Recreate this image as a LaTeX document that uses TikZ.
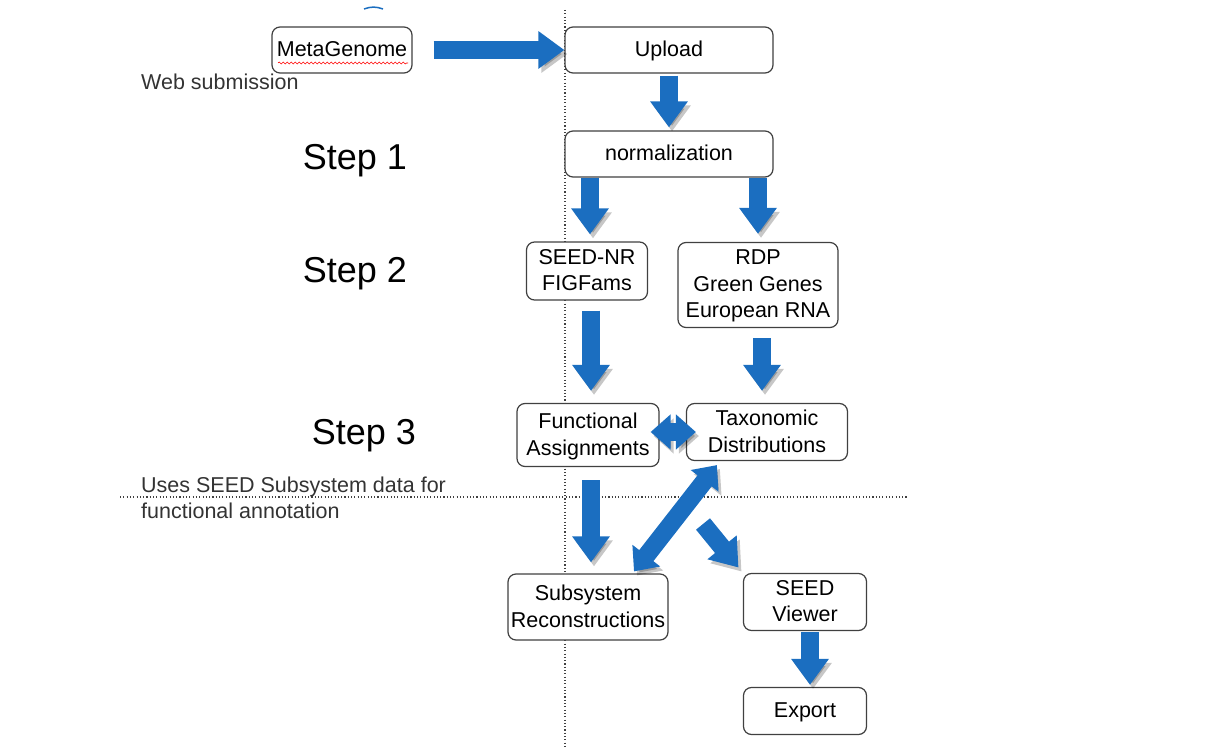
\documentclass[tikz,border=0pt]{standalone}
\usepackage{fontspec}
\setmainfont{Liberation Sans}
\usepackage{tikz}
\usetikzlibrary{arrows.meta,calc,decorations.pathmorphing}
\definecolor{flowblue}{HTML}{1B6EC0}

\begin{document}
\begin{tikzpicture}[x=1pt,y=-1pt]
    \useasboundingbox (0,0) rectangle (1219,749);

    % --- DEFINE STYLES ---
    % Style for the rounded process boxes
    \tikzstyle{stage} = [draw=black!75, line width=1.2pt, rounded corners=8pt, fill=white,
        align=center, inner sep=2pt, text depth=2pt, font=\fontsize{21.5}{26.5}\selectfont]
    % Style for the big step labels
    \tikzstyle{steplabel} = [font=\fontsize{36}{40}\selectfont]
    % Style for the side notes
    \tikzstyle{note} = [align=left, anchor=west, inner sep=0pt, text=black!80, font=\fontsize{21.5}{26.5}\selectfont]
    % Style for the dotted guide lines
    \tikzstyle{guide} = [black!75, line width=1.1pt, dash pattern=on 1.1pt off 2.2pt]
    % Style for the thick blue arrows
    \tikzstyle{flow} = [draw=flowblue, line width=18pt,
        -{Triangle[width=36pt,length=26pt]},
        preaction={draw=black, opacity=.22, transform canvas={shift={(3pt,-4pt)}}}]
    \tikzstyle{flowboth} = [flow, {Triangle[width=34pt,length=20pt]}-{Triangle[width=34pt,length=20pt]}]

    % Dotted guide lines
    \draw[guide] (565,10) -- (565,749);
    \draw[guide] (120,497) -- (908,497);

    % small mark at the top edge
    \draw[flowblue, line width=1.5pt] (364,9) to[bend left=20] (383,9);

    % --- PROCESS BOXES ---
    \node[stage, minimum width=140pt, minimum height=46pt] (metag) at (342,50) {MetaGenome};
    \draw[red, line width=.6pt, decorate, decoration={snake, segment length=4pt, amplitude=1pt}]
        (278,63) -- (408,63);
    \node[stage, minimum width=208pt, minimum height=46pt] (upload) at (669,50) {Upload};
    \node[stage, minimum width=208pt, minimum height=46pt] (norm) at (669,154) {normalization};
    \node[stage, minimum width=121pt, minimum height=58pt] (seednr) at (587,271) {SEED-NR\\FIGFams};
    \node[stage, minimum width=160pt, minimum height=85pt] (rdp) at (758,285) {RDP\\Green Genes\\European RNA};
    \node[stage, minimum width=142pt, minimum height=63pt] (func) at (588,435) {Functional\\Assignments};
    \node[stage, minimum width=161pt, minimum height=57pt] (tax) at (767,432) {Taxonomic\\Distributions};
    \node[stage, minimum width=160pt, minimum height=66pt] (subsys) at (588,607) {Subsystem\\Reconstructions};
    \node[stage, minimum width=123pt, minimum height=57pt] (viewer) at (805,602) {SEED\\Viewer};
    \node[stage, minimum width=123pt, minimum height=47pt] (export) at (805,711) {Export};

    % --- LABELS ---
    \node[note] (web) at (141,82) {Web submission};
    \node[steplabel] (step1) at (355,161) {Step 1};
    \node[steplabel] (step2) at (355,274) {Step 2};
    \node[steplabel] (step3) at (364,436) {Step 3};
    \node[note] (uses) at (141,498) {Uses SEED Subsystem data for\\functional annotation};

    % --- ARROWS ---
    \coordinate (fork) at (703,524);
    \draw[flow, shorten <=21pt] (metag.east) -- (upload.west);
    \draw[flow, shorten <=2pt, shorten >=3pt] (upload.south) -- (norm.north);
    \draw[flow, shorten >=7pt] (norm.south -| seednr.north) ++(3,0) -- ($(seednr.north)+(3,0)$);
    \draw[flow, shorten >=8pt] (norm.south -| rdp.north) -- (rdp.north);
    \draw[flow, shorten <=10pt, shorten >=12pt] ($(seednr.south)+(4,0)$) -- ($(seednr.south |- func.north)+(4,0)$);
    \draw[flow, shorten <=10pt, shorten >=12pt] ($(rdp.south)+(4,0)$) -- ($(rdp.south |- tax.north)+(4,0)$);
    \draw[flowboth, shorten <=-9pt, shorten >=-10pt] (func.east |- tax.west) -- (tax.west);
    \draw[flow, shorten <=13pt, shorten >=11pt] ($(func.south)+(3,0)$) -- ($(func.south |- subsys.north)+(3,0)$);
    \draw[flowboth] ($(tax.south west)+(31,4)$) -- ($(subsys.north)+(46,-2)$);
    \draw[flow, shorten >=7pt] (fork) -- (viewer.north west);
    \draw[flow, shorten <=1pt, shorten >=2pt] ($(viewer.south)+(5,0)$) -- ($(export.north)+(5,0)$);
\end{tikzpicture}
\end{document}
